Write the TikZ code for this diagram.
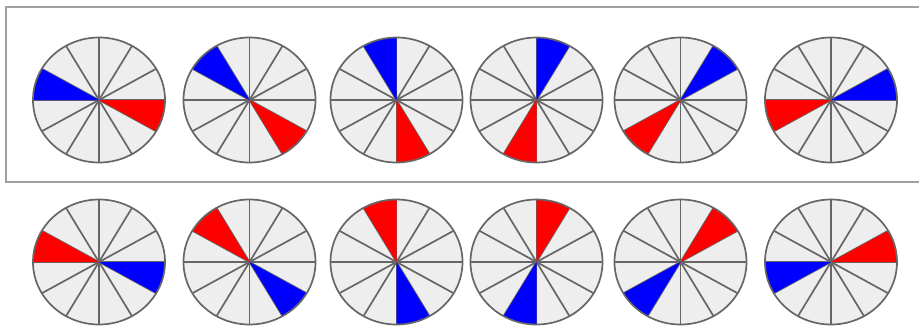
\documentclass[tikz,border=0pt]{standalone}
\definecolor{wheelfill}{HTML}{EEEEEE}
\definecolor{wheelgray}{HTML}{666666}
\definecolor{framegray}{HTML}{A0A0A0}
\definecolor{pureblue}{RGB}{0,0,255}
\definecolor{purered}{RGB}{255,0,0}
\begin{document}
\begin{tikzpicture}[x=1pt, y=1pt,
    wheel/.style={fill=wheelfill},
    rim/.style={draw=wheelgray, line width=1.7pt},
    spoke/.style={draw=wheelgray, line width=1.7pt},
    frame/.style={draw=framegray, line width=2pt}
]

\clip (0,0) rectangle (919,325);

% box round the upper row
\draw[frame] (925,318) -| (6,143) -- (925,143);

\foreach \cx [count=\i from 0] in {99,249.5,396.5,536.5,680.5,831} {
  \pgfmathsetmacro{\a}{150-30*\i}
  \pgfmathsetmacro{\b}{\a+180}
  \foreach \cy/\first/\second in {225/pureblue/purered, 63/purered/pureblue} {
    \fill[wheel] (\cx,\cy) ellipse [x radius=66, y radius=62.5];
    \foreach \t in {0,30,...,330}
      \draw[spoke] (\cx,\cy) -- ++(\t:66 and 62.5);
    \fill[\first] (\cx,\cy) -- ++(\a:66 and 62.5)
      arc[start angle=\a, delta angle=30, x radius=66, y radius=62.5] -- cycle;
    \fill[\second] (\cx,\cy) -- ++(\b:66 and 62.5)
      arc[start angle=\b, delta angle=30, x radius=66, y radius=62.5] -- cycle;
    \draw[rim] (\cx,\cy) ellipse [x radius=66, y radius=62.5];
  }
}

\end{tikzpicture}
\end{document}
